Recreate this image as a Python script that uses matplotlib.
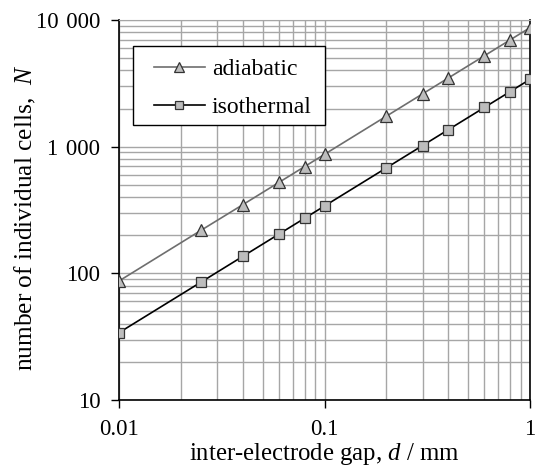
import matplotlib
matplotlib.use("Agg")
import matplotlib.pyplot as plt
from matplotlib.patches import Rectangle
from matplotlib.ticker import FixedLocator, LogLocator, NullFormatter

plt.rcParams['font.family'] = ['Liberation Serif', 'DejaVu Serif']
plt.rcParams['mathtext.fontset'] = 'custom'
plt.rcParams['mathtext.rm'] = 'Liberation Serif'
plt.rcParams['mathtext.it'] = 'Liberation Serif:italic'

# data
gap_mm = [0.01, 0.025, 0.04, 0.06, 0.08, 0.1, 0.2, 0.3, 0.4, 0.6, 0.8, 1.0]
adiabatic = [87, 218, 348, 522, 696, 870, 1740, 2610, 3480, 5220, 6960, 8700]
isothermal = [34, 85, 136, 204, 272, 340, 680, 1020, 1360, 2040, 2720, 3400]

x_ticks = [0.01, 0.1, 1]
x_labels = ["0.01", "0.1", "1"]
y_ticks = [10, 100, 1000, 10000]
y_labels = ["10", "100", "1\u2004000", "10\u2004000"]

fig = plt.figure(figsize=(5.36, 4.74), dpi=100)
ax = fig.add_axes([119 / 536, 1 - 400 / 474, 411 / 536, 380 / 474])

ax.plot(gap_mm, adiabatic, color='#6e6e6e', lw=1.2, marker='^', ms=8,
        mfc='#bdbdbd', mec='#333333', mew=0.9, label='adiabatic', zorder=3)
ax.plot(gap_mm, isothermal, color='black', lw=1.2, marker='s', ms=7,
        mfc='#bdbdbd', mec='#333333', mew=0.9, label='isothermal', zorder=3)

ax.set_xscale('log')
ax.set_yscale('log')
ax.set_xlim(0.01, 1)
ax.set_ylim(10, 10000)

ax.xaxis.set_major_locator(FixedLocator(x_ticks))
ax.set_xticklabels(x_labels)
ax.yaxis.set_major_locator(FixedLocator(y_ticks))
ax.set_yticklabels(y_labels)
ax.xaxis.set_minor_locator(LogLocator(base=10, subs=range(2, 10)))
ax.yaxis.set_minor_locator(LogLocator(base=10, subs=range(2, 10)))
ax.xaxis.set_minor_formatter(NullFormatter())
ax.yaxis.set_minor_formatter(NullFormatter())

ax.grid(True, which='both', color='#a6a6a6', lw=1.0)
ax.set_axisbelow(True)
ax.tick_params(which='major', direction='out', length=5.5, width=1, labelsize=16.5)
ax.tick_params(axis='y', pad=8)
ax.tick_params(axis='x', pad=8.5)
ax.tick_params(which='minor', length=0)

for s in ['left', 'bottom', 'right']:
    ax.spines[s].set_color('black')
    ax.spines[s].set_linewidth(1.2)
ax.spines['top'].set_color('#a6a6a6')

ax.set_xlabel('inter-electrode gap, $\\it{d}$ / mm', fontsize=17.8)
ax.set_ylabel('number of individual cells,  $\\it{N}$', fontsize=18.3)
ax.xaxis.set_label_coords(0.5, -0.107)
ax.yaxis.set_label_coords(-0.197, 0.479)

# legend frame drawn separately so the entries can sit inset like the original
ax.add_patch(Rectangle((0.034, 0.724), 0.467, 0.208, transform=ax.transAxes,
                       facecolor='white', edgecolor='black', lw=1.0, zorder=4))
leg = ax.legend(loc='center', bbox_to_anchor=(0.277, 0.820), fontsize=17,
                frameon=False, handlelength=2.15, handletextpad=0.3,
                borderpad=0, labelspacing=0.7, borderaxespad=0, markerscale=0.85)
leg.set_zorder(5)

fig.savefig('out.png', dpi=100)
